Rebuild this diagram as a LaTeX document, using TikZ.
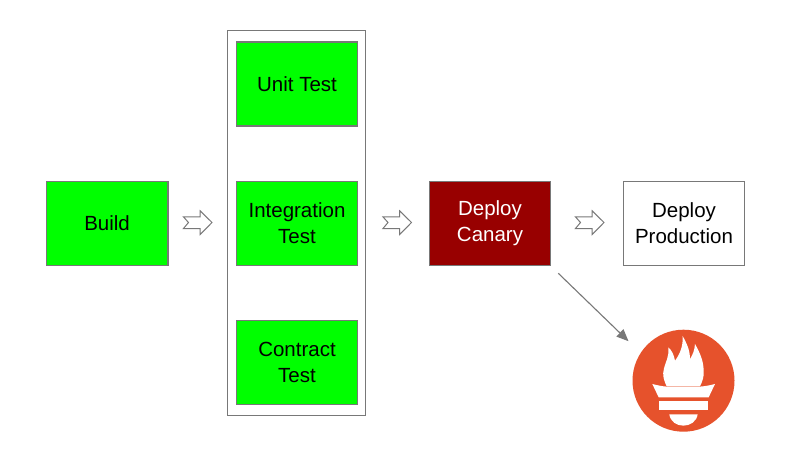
\documentclass[tikz,border=0pt]{standalone}
\usepackage{fontspec}
\setmainfont{Liberation Sans}
\usetikzlibrary{arrows.meta}
\definecolor{edgegray}{HTML}{787878}
\definecolor{promorange}{HTML}{E6522C}
\definecolor{canaryred}{HTML}{980000}
\tikzset{
  x=1pt,y=-1pt,
  stagebox/.style={draw=edgegray,line width=1.1pt,minimum width=121.8pt,minimum height=84pt,inner sep=0pt,align=center,font=\fontsize{20.5}{26}\selectfont,text=black},
  greenbox/.style={stagebox,fill=green},
  redbox/.style={stagebox,fill=canaryred,text=white},
  whitebox/.style={stagebox,fill=white},
  groupbox/.style={draw=edgegray,line width=1pt,fill=white,minimum width=138.6pt,minimum height=384.6pt,inner sep=0pt},
  blockarrow/.pic={\draw[edgegray,line width=1pt,fill=white,line join=miter]
    (-14.5,-5.6)--(2.2,-5.6)--(2.2,-11.6)--(14,0)--(2.2,12)--(2.2,6)--(-14.5,6)--(-9.5,0)--cycle;},
}
\begin{document}
\begin{tikzpicture}
\useasboundingbox (0,0) rectangle (800,450);
\fill[white] (0,0) rectangle (800,450);
\node[groupbox] (group) at (296.5,222.7) {};
\node[greenbox] (build) at (107.1,223.1) {Build};
\node[greenbox] (unit) at (297,84) {Unit Test};
\node[greenbox] (integration) at (297,223.1) {Integration\\Test};
\node[greenbox] (contract) at (297,362.1) {Contract\\Test};
\node[redbox] (canary) at (490,223.1) {Deploy\\Canary};
\node[whitebox] (production) at (684,223.1) {Deploy\\Production};
\pic at (198,222.5) {blockarrow};
\pic at (397.5,222.5) {blockarrow};
\pic at (590,222.5) {blockarrow};
% Prometheus logo
\node[circle,fill=promorange,minimum size=102pt,inner sep=0pt] (prom) at (683.5,380.7) {};
\begin{scope}[shift={(540,260)},x=0.3333pt,y=-0.3333pt]
\fill[white] (380,379) .. controls (372,362) and (366,345) .. (372,325)
  .. controls (377,305) and (388,290) .. (385,262)
  .. controls (396,272) and (402,285) .. (405,302)
  .. controls (418,285) and (430,260) .. (428,228)
  .. controls (440,250) and (450,270) .. (450,297)
  .. controls (458,285) and (464,270) .. (465,252)
  .. controls (478,275) and (490,300) .. (491,330)
  .. controls (493,350) and (487,365) .. (480,379) -- cycle;
\fill[white] (337,372) .. controls (352,376) and (366,379) .. (382,380)
  -- (478,380) .. controls (494,379) and (510,376) .. (525,372)
  -- (506,412) -- (356,412) -- cycle;
\fill[white] (358,423) rectangle (504,450);
\fill[white] (388,463) -- (473,463) .. controls (470,485) and (450,497) .. (430,497)
  .. controls (410,497) and (391,485) .. (388,463) -- cycle;
\end{scope}
\coordinate (pointerstart) at (558.3,273.3);
\coordinate (pointerend) at (628.5,341.2);
\draw[edgegray,line width=1.1pt,-{Triangle[length=12pt,width=10pt]}] (pointerstart) -- (pointerend);
\end{tikzpicture}
\end{document}
